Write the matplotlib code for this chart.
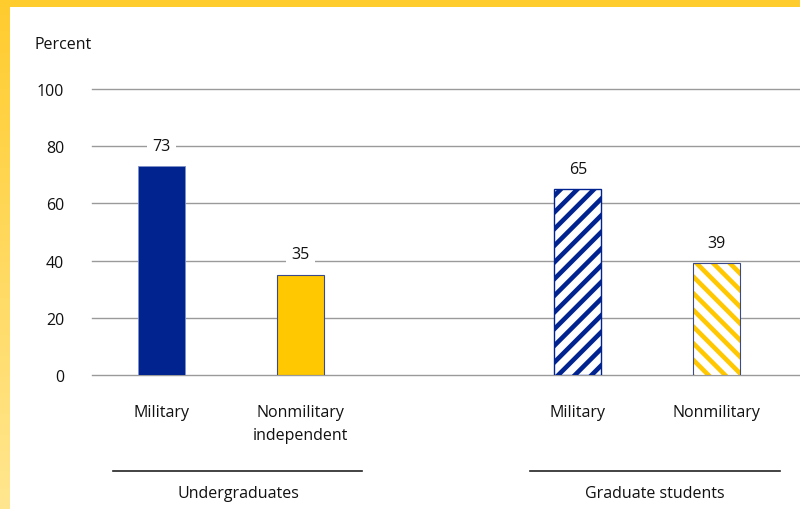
import matplotlib.pyplot as plt
import matplotlib.patches as mpatches
from matplotlib.colors import LinearSegmentedColormap
import numpy as np

plt.rcParams['font.family'] = ['Open Sans', 'DejaVu Sans']
plt.rcParams['hatch.linewidth'] = 3.3

BLUE = '#00238F'
YELLOW = '#FFC800'

categories = ['Military', 'Nonmilitary\nindependent', 'Military', 'Nonmilitary']
values = [73, 35, 65, 39]
groups = ['Undergraduates', 'Graduate students']
positions = [0, 1, 3, 4]
yticks = [0, 20, 40, 60, 80, 100]

fig = plt.figure(figsize=(8, 5.1), dpi=100)

# yellow frame: top strip and gradient left strip
fig.patches.append(mpatches.Rectangle((0, 1 - 8 / 510), 1, 8 / 510, transform=fig.transFigure,
                                      facecolor='#FFCC2E', edgecolor='none', zorder=0))
strip = fig.add_axes([0, 0, 10 / 800, 1])
grad = np.linspace(0, 1, 256).reshape(-1, 1)
cmap = LinearSegmentedColormap.from_list('frame', ['#FFCC2E', '#FFE68F'])
strip.imshow(grad, aspect='auto', cmap=cmap, extent=[0, 1, 0, 1], origin='upper')
strip.axis('off')

ax = fig.add_axes([92 / 800, 134 / 510, 708 / 800, 286 / 510])
for y in yticks:
    ax.axhline(y, color='#9a9a9a', lw=1, zorder=0, clip_on=False)

w = 0.34
# undergraduates: solid
ax.bar(positions[0], values[0], w, color=BLUE, edgecolor='#8090c8', lw=0.6, zorder=2)
ax.bar(positions[1], values[1], w, color=YELLOW, edgecolor='#3a4a8a', lw=0.8, zorder=2)
# graduate students: hatched
ax.bar(positions[2], values[2], w, color='white', edgecolor=BLUE, hatch='//', lw=0, zorder=2)
ax.bar(positions[2], values[2], w, fill=False, edgecolor=BLUE, lw=1, zorder=3)
ax.bar(positions[3], values[3], w, color='white', edgecolor=YELLOW, hatch='\\\\', lw=0, zorder=2)
ax.bar(positions[3], values[3], w, fill=False, edgecolor='#3a4a8a', lw=0.8, zorder=3)

for x, v in zip(positions, values):
    ax.text(x, v + 7.2, str(v), ha='center', va='center', fontsize=11.5, color='#111111',
            bbox=dict(boxstyle='square,pad=0.35', fc='white', ec='none'), zorder=4)

ax.set_xlim(-0.5, 4.6)
ax.set_ylim(0, 100)
ax.set_yticks(yticks)
ax.set_yticklabels([str(t) for t in yticks], fontsize=11.5, color='#111111')
ax.tick_params(axis='y', length=0, pad=20)
ax.set_xticks(positions)
ax.set_xticklabels(categories, fontsize=11.5, color='#111111', va='top', linespacing=1.55)
ax.tick_params(axis='x', length=0, pad=21)
for s in ax.spines.values():
    s.set_visible(False)

fig.text(35 / 800, 1 - 45 / 510, 'Percent', fontsize=11.5, color='#111111', va='center', ha='left')

# group brackets
fig.add_artist(plt.Line2D([113 / 800, 362 / 800], [1 - 472 / 510] * 2, color='#222222', lw=1.2))
fig.add_artist(plt.Line2D([530 / 800, 780 / 800], [1 - 472 / 510] * 2, color='#222222', lw=1.2))
fig.text(238 / 800, 1 - 494 / 510, groups[0], fontsize=11.5, color='#111111', ha='center', va='center')
fig.text(655 / 800, 1 - 494 / 510, groups[1], fontsize=11.5, color='#111111', ha='center', va='center')

fig.savefig('out.png', dpi=100)
